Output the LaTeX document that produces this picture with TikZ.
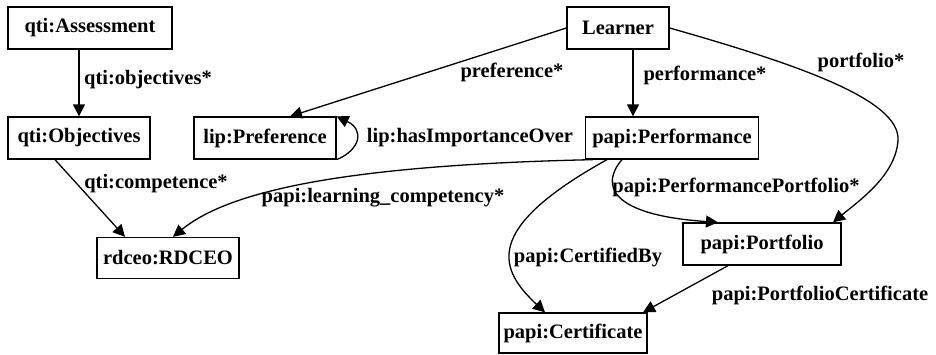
\documentclass[tikz,border=0pt]{standalone}
\usepackage{fontspec}
\setmainfont{Liberation Serif}
\usetikzlibrary{arrows.meta}
\begin{document}
\begin{tikzpicture}[x=1pt,y=-1pt,
 box/.style={draw,line width=1.3pt,inner sep=0pt,font=\fontsize{20.5}{24}\selectfont\bfseries,minimum height=42pt},
 lbl/.style={inner sep=0pt,font=\fontsize{20.5}{24}\selectfont\bfseries},
 edge/.style={line width=1.3pt,-{Triangle[length=12pt,width=12pt]}}]
\useasboundingbox (0,0) rectangle (936,354);
\node[box,minimum width=164pt] (ass) at (90,28) {qti:Assessment};
\node[box,minimum width=142pt] (obj) at (79,138) {qti:Objectives};
\node[box,minimum width=142pt] (pref) at (265,138) {lip:Preference};
\node[box,minimum width=102pt] (lrn) at (618,28) {Learner};
\node[box,minimum width=173pt] (perf) at (672,138) {papi:Performance};
\node[box,minimum width=142pt,minimum height=41pt] (rd) at (168,258) {rdceo:RDCEO};
\node[box,minimum width=158pt] (port) at (762,244) {papi:Portfolio};
\node[box,minimum width=148pt,minimum height=40pt] (cert) at (573,333) {papi:Certificate};

\node[lbl] (l1) at (148,80) {qti:objectives*};
\node[lbl] (l2) at (512,72) {preference*};
\node[lbl] (l3) at (705,75) {performance*};
\node[lbl] (l4) at (861,62) {portfolio*};
\node[lbl] (l5) at (470,138) {lip:hasImportanceOver};
\node[lbl] (l6) at (156,184) {qti:competence*};
\node[lbl] (l7) at (383,198) {papi:learning\_competency*};
\node[lbl] (l8) at (736,187) {papi:PerformancePortfolio*};
\node[lbl] (l9) at (588,257) {papi:CertifiedBy};
\node[lbl] (l10) at (820,295) {papi:PortfolioCertificate};

\coordinate (lp) at ([xshift=15pt]lrn.south);
\draw[edge] (ass.south -| obj.north) -- (obj.north);
\draw[edge] (lrn.west) -- ([xshift=25pt]pref.north);
\draw[edge] (lp) -- (lp |- perf.north);
\draw[edge] (lrn.east) .. controls (800,65) and (900,100) .. (898,140) .. controls (896,175) and (860,200) .. ([xshift=71pt]port.north);
\draw[edge] (pref.south east) .. controls (360,150) and (365,130) .. (pref.north east);
\draw[edge] ([xshift=-24pt]obj.south) -- ([xshift=-43pt]rd.north);
\draw[edge] ([xshift=8pt]perf.south west) .. controls (350,165) and (230,190) .. ([xshift=5pt]rd.north);
\draw[edge] ([xshift=-65pt]perf.south) .. controls (480,230) and (500,270) .. ([xshift=-28pt]cert.north);
\draw[edge] ([xshift=-50pt]perf.south) .. controls (600,185) and (610,215) .. ([xshift=-44pt]port.north);
\draw[edge] ([xshift=-34pt]port.south) -- ([xshift=70pt]cert.north);
\end{tikzpicture}
\end{document}
